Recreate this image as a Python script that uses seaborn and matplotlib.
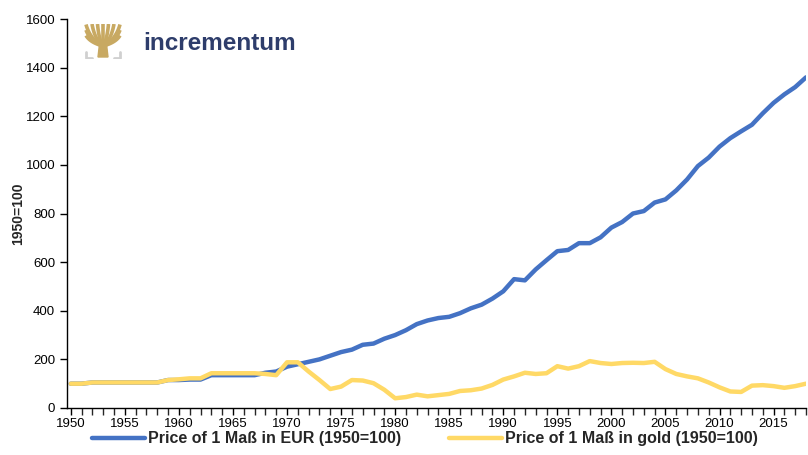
import numpy as np
import pandas as pd
import matplotlib
matplotlib.use("Agg")
import matplotlib.pyplot as plt
import seaborn as sns

years = list(range(1950, 2019))

price_eur = [100, 100, 105, 105, 105, 105, 105, 105, 105, 115,
             115, 117, 117, 135, 135, 135, 135, 135, 145, 150,
             170, 180, 190, 200, 215, 230, 240, 260, 265, 285,
             300, 320, 345, 360, 370, 375, 390, 410, 425, 450,
             480, 530, 525, 570, 608, 645, 650, 678, 678, 702,
             742, 765, 800, 810, 845, 858, 895, 940, 995, 1030,
             1075, 1110, 1138, 1165, 1212, 1255, 1290, 1320, 1360]

price_gold = [100, 100, 105, 105, 105, 105, 105, 105, 105, 115,
              118, 122, 122, 143, 143, 143, 143, 143, 140, 135,
              188, 188, 150, 115, 78, 88, 115, 113, 102, 75,
              40, 45, 55, 48, 53, 58, 70, 73, 80, 95,
              117, 130, 145, 140, 143, 172, 162, 172, 193, 185,
              181, 185, 186, 185, 190, 160, 140, 130, 122, 105,
              85, 68, 66, 92, 94, 90, 83, 90, 100]

labels = ["Price of 1 Maß in EUR (1950=100)", "Price of 1 Maß in gold (1950=100)"]
colors = ["#4472C4", "#FFD966"]

sns.set_style("ticks")
plt.rcParams['font.family'] = ['Liberation Sans', 'DejaVu Sans']

fig = plt.figure(figsize=(8.08, 4.55), dpi=100)
W, H = 808, 455
ax = fig.add_axes([67 / W, 1 - 408 / H, (806 - 67) / W, (408 - 19) / H])

df = pd.DataFrame({"year": years, "eur": price_eur, "gold": price_gold})
sns.lineplot(data=df, x="year", y="eur", color=colors[0], lw=3.2, ax=ax, label=labels[0])
sns.lineplot(data=df, x="year", y="gold", color=colors[1], lw=3.2, ax=ax, label=labels[1])

ax.set_xlim(1949.65, 2018)
ax.set_ylim(0, 1600)
ax.set_yticks(range(0, 1601, 200))
ax.set_xticks(range(1950, 2016, 5))
ax.set_xticks(range(1950, 2019), minor=True)
ax.tick_params(axis="both", labelsize=9.5, colors="black", length=5, width=1, direction="out")
ax.tick_params(axis="x", which="minor", length=5, width=1)
ax.tick_params(axis="x", pad=2)
ax.set_xlabel("")
ax.set_ylabel("1950=100", fontsize=10, fontweight="bold")
ax.yaxis.set_label_coords((25 - 67) / (806 - 67), 0.5)
for s in ["top", "right"]:
    ax.spines[s].set_visible(False)
for s in ["left", "bottom"]:
    ax.spines[s].set_color("black")
    ax.spines[s].set_linewidth(1)

ax.get_legend().remove()
handles, labs = ax.get_legend_handles_labels()
fig.legend(handles, labs, loc="center", bbox_to_anchor=(425 / W, 1 - 439 / H), ncol=2,
           frameon=False, handlelength=3.3, columnspacing=3.0, handletextpad=0.2,
           prop={"size": 11.5, "weight": "bold"})

# logo
lax = fig.add_axes([83 / W, 1 - 59 / H, 40 / W, 35 / H])
lax.set_xlim(0, 40)
lax.set_ylim(0, 35)
lax.axis("off")
gold = "#C8A962"
lax.fill([15, 25, 23.5, 16.5], [2, 2, 15, 15], color=gold)
t = np.linspace(0, 1, 20)
for ex, ey in [(3, 34.5), (3, 29), (3, 23.5), (9, 35), (14.5, 35), (20, 35), (25.5, 35),
               (31, 35), (37, 34.5), (37, 29), (37, 23.5)]:
    cx, cy = 20 + (ex - 20) * 0.75, 14 + (ey - 14) * 0.25
    bx = (1 - t) ** 2 * 20 + 2 * (1 - t) * t * cx + t ** 2 * ex
    by = (1 - t) ** 2 * 13 + 2 * (1 - t) * t * cy + t ** 2 * ey
    lax.plot(bx, by, color=gold, lw=2.6, solid_capstyle="butt")
grey = "#D0D0D0"
lax.plot([3, 3, 9], [7, 1, 1], color=grey, lw=2)
lax.plot([37, 37, 31], [7, 1, 1], color=grey, lw=2)
fig.text(143 / W, 1 - 43 / H, "incrementum", fontsize=17.5, fontweight="bold",
         color="#2E3D6B", va="center", ha="left")

fig.savefig("out.png", dpi=100)
